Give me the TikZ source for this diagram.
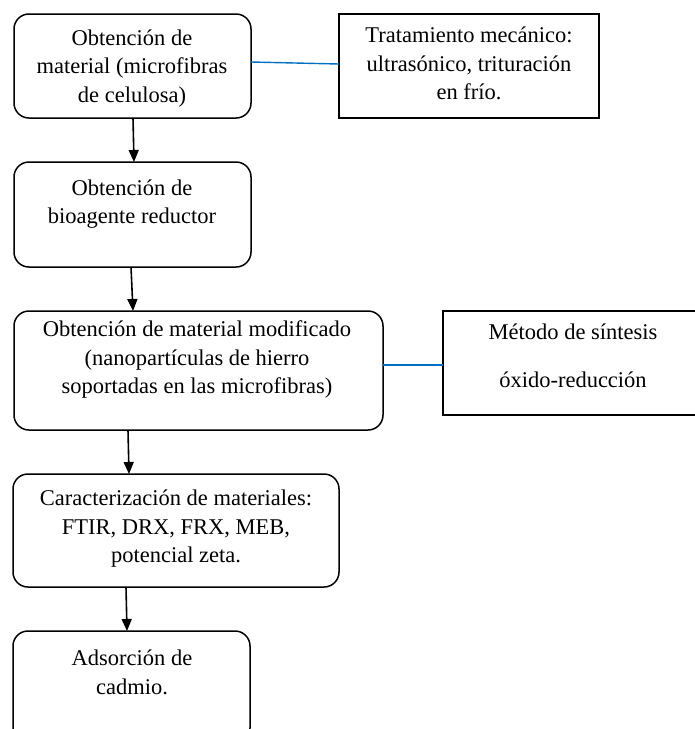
\documentclass[tikz,border=0pt]{standalone}
\usepackage{fontspec}
\setmainfont{Liberation Serif}
\usetikzlibrary{arrows.meta}
\definecolor{linkblue}{RGB}{0,112,192}
\tikzset{
  roundbox/.style={draw=black, line width=1.5pt, rounded corners=15pt, anchor=north west, inner sep=0pt, outer sep=0pt},
  sharpbox/.style={draw=black, line width=1.5pt, anchor=north west, inner sep=0pt, outer sep=0pt},
  txt/.style={align=center, inner sep=0pt, font=\fontsize{22.5}{28.5}\selectfont},
  flow/.style={draw=black, line width=1.6pt, -{Triangle[length=12pt,width=10pt]}},
  link/.style={draw=linkblue, line width=1.4pt}
}
\begin{document}
\begin{tikzpicture}[x=1pt,y=-1pt]
\useasboundingbox (0,0) rectangle (695,729);
\clip (0,0) rectangle (695,729);
% boxes
\node[roundbox, minimum width=237pt, minimum height=104pt] (b1) at (14,14) {};
\node[sharpbox, minimum width=260pt, minimum height=104pt] (t) at (339,14) {};
\node[roundbox, minimum width=237pt, minimum height=105pt] (b2) at (14,162) {};
\node[roundbox, minimum width=369pt, minimum height=119pt] (b3) at (14,311) {};
\node[sharpbox, minimum width=260pt, minimum height=104pt] (m) at (443,311) {};
\node[roundbox, minimum width=326pt, minimum height=113pt] (b4) at (13,474) {};
\node[roundbox, minimum width=237pt, minimum height=112pt] (b5) at (13,631) {};
% texts
\node[txt] (t1) at (132,68.5) {Obtención de\\material (microfibras\\de celulosa)};
\node[txt] (tt) at (469,63.5) {Tratamiento mecánico:\\ultrasónico, trituración\\en frío.};
\node[txt] (t2) at (132,204) {Obtención de\\bioagente reductor};
\node[txt] (t3) at (197,359.5) {Obtención de material modificado\\(nanopartículas de hierro\\soportadas en las microfibras)};
\node[txt] (tm) at (573,356) {Método de síntesis\\[20pt]óxido-reducción};
\node[txt] (t4) at (176,529) {Caracterización de materiales:\\FTIR, DRX, FRX, MEB,\\potencial zeta.};
\node[txt] (t5) at (132,672.5) {Adsorción de\\cadmio.};
% arrows
\draw[flow] ([xshift=0.5pt]b1.south) -- ([xshift=1.5pt]b2.north);
\draw[flow] ([xshift=-1.5pt]b2.south) -- ([xshift=0.5pt]b3.north -| b2.south);
\draw[flow] ([xshift=-70.5pt]b3.south) -- ([xshift=-69.5pt]b4.north -| b3.south);
\draw[flow] ([xshift=-50pt]b4.south) -- ([xshift=-4.5pt]b5.north);
% links
\draw[link] ([yshift=4pt]b1.east) -- ([yshift=2pt]t.west);
\draw[link] ([yshift=5.5pt]b3.east) -- ([yshift=-2pt]m.west);
\end{tikzpicture}
\end{document}
